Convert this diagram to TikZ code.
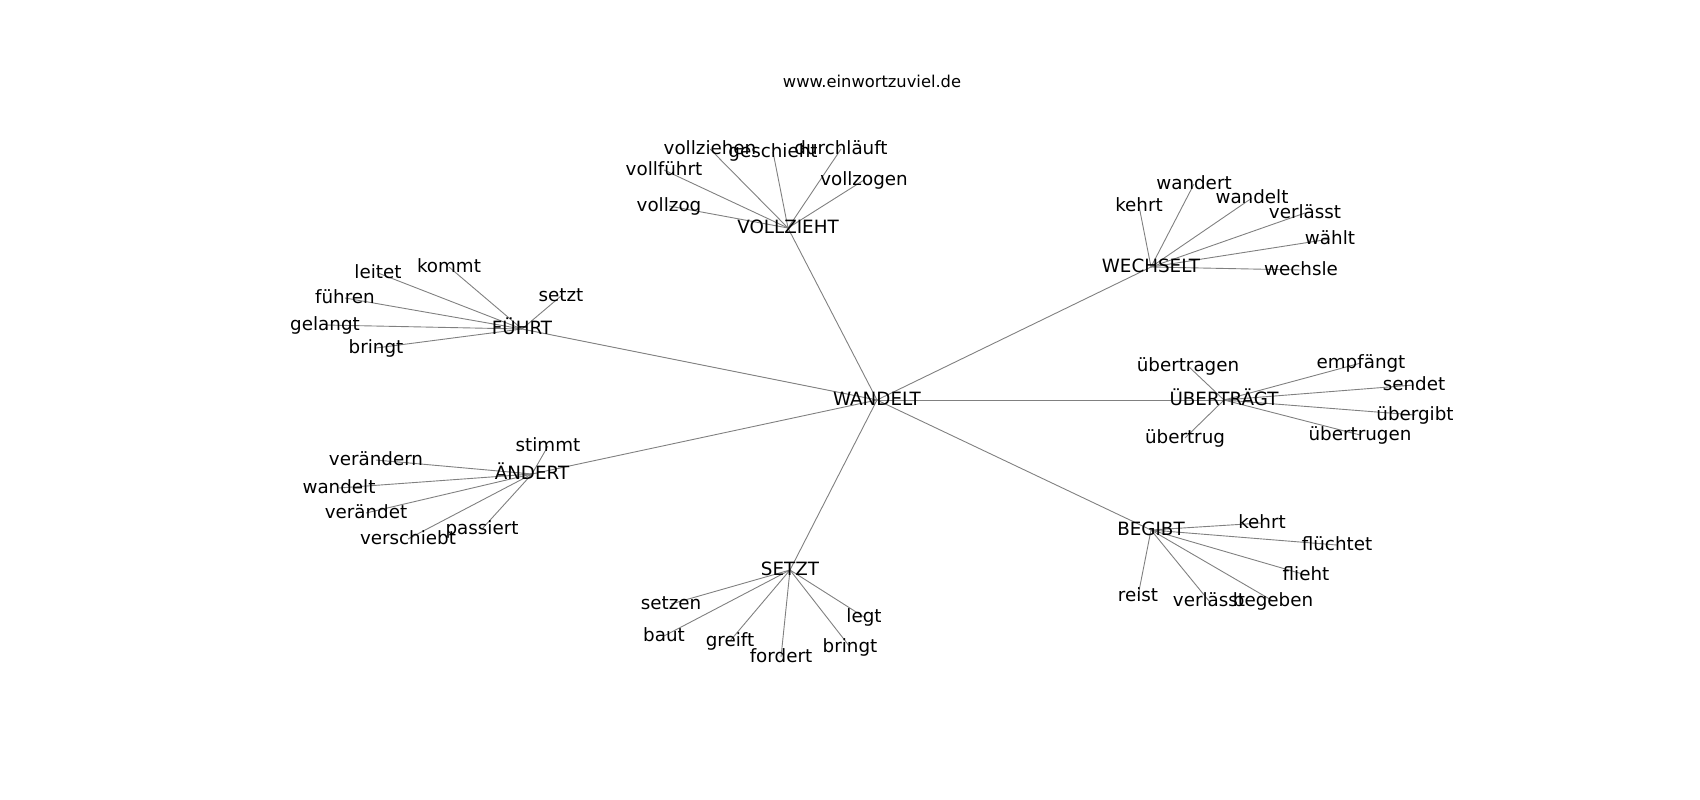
\documentclass[tikz,border=0pt]{standalone}
\usepackage{fontspec}
\setmainfont{DejaVu Sans}
\usetikzlibrary{backgrounds}

\tikzset{
  word/.style={inner sep=0pt, text height=1.1em, text depth=0pt,
    font=\fontsize{18.3}{22}\selectfont},
  site/.style={inner sep=0pt, text height=1.1em, text depth=0pt,
    font=\fontsize{16.3}{20}\selectfont},
  edge/.style={draw=gray, line width=0.9pt}
}

\begin{document}
\begin{tikzpicture}[x=1pt, y=-1pt]

\useasboundingbox (0,0) rectangle (1700,800);

\node [site] (title) at (872,82) {www.einwortzuviel.de};

% hubs
\foreach \n/\x/\y/\t in {wandelt/877/400/WANDELT, vollzieht/788/228/VOLLZIEHT,
    wechselt/1151/267/WECHSELT, uebertraegt/1224/400/ÜBERTRÄGT,
    begibt/1151/530/BEGIBT, setzt/790/570/SETZT,
    aendert/532/474/ÄNDERT, fuehrt/522/329/FÜHRT}
    \node [word] (\n) at (\x,\y) {\t};

% leaves
\foreach \n/\x/\y/\t in {v1/710/149/vollziehen, v2/773/152/geschieht,
    v3/841/149/durchläuft, v4/664/170/vollführt, v5/864/180/vollzogen,
    v6/669/206/vollzog,
    w1/1139/206/kehrt, w2/1194/184/wandert, w3/1252/198/wandelt,
    w4/1305/213/verlässt, w5/1330/239/wählt, w6/1301/270/wechsle,
    u1/1188/366/übertragen, u2/1361/363/empfängt, u3/1414/385/sendet,
    u4/1415/415/übergibt, u5/1360/435/übertrugen, u6/1185/438/übertrug,
    b1/1262/523/kehrt, b2/1337/545/flüchtet, b3/1306/575/flieht,
    b4/1138/596/reist, b5/1209/601/verlässt, b6/1273/601/begeben,
    s1/671/604/setzen, s2/664/636/baut, s3/730/641/greift,
    s4/781/657/fordert, s5/850/647/bringt, s6/864/617/legt,
    a1/548/446/stimmt, a2/376/460/verändern, a3/339/488/wandelt,
    a4/366/513/verändet, a5/408/539/verschiebt, a6/482/529/passiert,
    f1/449/267/kommt, f2/378/273/leitet, f3/561/296/setzt,
    f4/345/298/führen, f5/325/325/gelangt, f6/376/348/bringt}
    \node [word] (\n) at (\x,\y) {\t};

\begin{scope}[on background layer]
\foreach \h in {vollzieht,wechselt,uebertraegt,begibt,setzt,aendert,fuehrt}
    \draw [edge] (wandelt.center) -- (\h.center);
\foreach \h/\p in {vollzieht/v, wechselt/w, uebertraegt/u, begibt/b,
    setzt/s, aendert/a, fuehrt/f}
    \foreach \i in {1,...,6}
        \draw [edge] (\h.center) -- (\p\i.center);
\end{scope}

\end{tikzpicture}
\end{document}
